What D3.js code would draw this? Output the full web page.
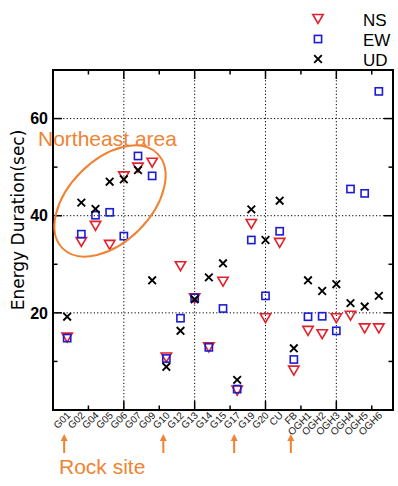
<!DOCTYPE html>
<html><head><meta charset="utf-8">
<script src="https://cdn.jsdelivr.net/npm/d3@7"></script>
<style>html,body{margin:0;padding:0;background:#fff;}svg{display:block;}</style>
</head><body>
<script>
const categories = ["G01","G02","G04","G05","G06","G07","G09","G10","G12","G13","G14","G15","G17","G19","G20","CU","FB","OGH1","OGH2","OGH3","OGH4","OGH5","OGH6"];
const nsValues = [14.9,34.6,37.9,34.0,48.1,49.9,50.9,10.8,29.6,23.0,12.9,26.4,4.0,38.3,18.9,34.4,8.1,16.3,15.6,18.9,19.4,16.8,16.8];
const ewValues = [14.8,36.2,40.1,40.7,35.8,52.3,48.2,10.6,18.9,23.1,12.9,20.9,4.3,35.0,23.5,36.8,10.4,19.2,19.3,16.3,45.5,44.6,65.6];
const udValues = [19.2,42.7,41.4,47.0,47.5,49.4,26.7,8.9,16.3,22.8,27.3,30.2,6.2,41.3,35.0,43.1,12.7,26.7,24.5,25.9,22.0,21.3,23.5];
const yMajorTicks = [20,40,60];
const yMinorTicks = [10,30,50];
const xMajorTicks = [5,10,15,20];
const xMinorTicks = [2.5,7.5,12.5,17.5,22.5];
const legendLabels = ["NS","EW","UD"];
const rockSites = ["G01","G10","G17","FB"];

const W=398,H=486;
const L=53,R=393,T=70,B=410;
const RED="#e3202b", BLUE="#1c1cd2", ORANGE="#ef8332";
const svg=d3.select("body").append("svg").attr("width",W).attr("height",H);
const x=d3.scaleLinear().domain([0,24]).range([L,R]);
const y=d3.scaleLinear().domain([0,70]).range([B,T]);
const xi=i=>x(i+1);

// grid
const grid=svg.append("g").attr("stroke","#000").attr("stroke-width",1).attr("stroke-dasharray","1.2,2.2");
yMajorTicks.forEach(v=>grid.append("line").attr("x1",L).attr("x2",R).attr("y1",y(v)).attr("y2",y(v)));
xMajorTicks.forEach(v=>grid.append("line").attr("y1",T).attr("y2",B).attr("x1",x(v)).attr("x2",x(v)));

// markers
function triPath(cx,cy){const w=5.2,h=9;return `M${cx-w},${cy-h/2}L${cx+w},${cy-h/2}L${cx},${cy+h/2}Z`;}
svg.append("g").selectAll("path").data(nsValues).join("path")
  .attr("d",(d,i)=>triPath(xi(i),y(d))).attr("fill","none").attr("stroke",RED).attr("stroke-width",1.6);
svg.append("g").selectAll("rect").data(ewValues).join("rect")
  .attr("x",(d,i)=>xi(i)-3.6).attr("y",d=>y(d)-3.6).attr("width",7.2).attr("height",7.2)
  .attr("fill","none").attr("stroke",BLUE).attr("stroke-width",1.6);
const xs=svg.append("g").attr("stroke","#000").attr("stroke-width",1.9);
udValues.forEach((d,i)=>{const cx=xi(i),cy=y(d),s=3.8;
  xs.append("path").attr("d",`M${cx-s},${cy-s}L${cx+s},${cy+s}M${cx-s},${cy+s}L${cx+s},${cy-s}`);});

// frame + ticks
const fr=svg.append("g").attr("stroke","#000");
fr.append("rect").attr("x",L).attr("y",T).attr("width",R-L).attr("height",B-T).attr("fill","none").attr("stroke-width",2);
const maj=9,mn=4.5;
yMajorTicks.forEach(v=>{fr.append("line").attr("x1",L).attr("x2",L+maj).attr("y1",y(v)).attr("y2",y(v)).attr("stroke-width",1.5);
  fr.append("line").attr("x1",R).attr("x2",R-maj).attr("y1",y(v)).attr("y2",y(v)).attr("stroke-width",1.5);});
yMinorTicks.forEach(v=>{fr.append("line").attr("x1",L).attr("x2",L+mn).attr("y1",y(v)).attr("y2",y(v)).attr("stroke-width",1.5);
  fr.append("line").attr("x1",R).attr("x2",R-mn).attr("y1",y(v)).attr("y2",y(v)).attr("stroke-width",1.5);});
xMajorTicks.forEach(v=>{fr.append("line").attr("y1",B).attr("y2",B-maj).attr("x1",x(v)).attr("x2",x(v)).attr("stroke-width",1.5);
  fr.append("line").attr("y1",T).attr("y2",T+maj).attr("x1",x(v)).attr("x2",x(v)).attr("stroke-width",1.5);});
xMinorTicks.forEach(v=>{fr.append("line").attr("y1",B).attr("y2",B-mn).attr("x1",x(v)).attr("x2",x(v)).attr("stroke-width",1.5);
  fr.append("line").attr("y1",T).attr("y2",T+mn).attr("x1",x(v)).attr("x2",x(v)).attr("stroke-width",1.5);});

// y tick labels
svg.append("g").selectAll("text").data(yMajorTicks).join("text")
  .attr("x",48).attr("y",d=>y(d)).attr("dy","0.36em").attr("text-anchor","end")
  .attr("font-family","Liberation Sans, Arial, sans-serif").attr("font-weight","bold").attr("font-size",16).text(d=>d);
// x tick labels
svg.append("g").selectAll("text").data(categories).join("text")
  .attr("transform",(d,i)=>`translate(${xi(i)+4},${B+6}) rotate(-45)`).attr("text-anchor","end")
  .attr("font-family","Liberation Sans, Arial, sans-serif").attr("font-size",10).attr("fill","#222").text(d=>d);
// y label
svg.append("text").attr("transform","translate(24,220) rotate(-90)").attr("text-anchor","middle")
  .attr("font-family","DejaVu Sans, sans-serif").attr("font-size",17).text("Energy Duration(sec)");

// legend
const lg=svg.append("g");
const ly=[19,39,59];
lg.append("path").attr("d",triPath(318,ly[0])).attr("fill","none").attr("stroke",RED).attr("stroke-width",1.6);
lg.append("rect").attr("x",318-3.6).attr("y",ly[1]-3.6).attr("width",7.2).attr("height",7.2).attr("fill","none").attr("stroke",BLUE).attr("stroke-width",1.6);
lg.append("path").attr("d",`M${318-3.8},${ly[2]-3.8}L${318+3.8},${ly[2]+3.8}M${318-3.8},${ly[2]+3.8}L${318+3.8},${ly[2]-3.8}`).attr("stroke","#000").attr("stroke-width",1.9);
legendLabels.forEach((t,i)=>{
  lg.append("text").attr("x",363).attr("y",ly[i]+6.5)
    .attr("font-family","Liberation Sans, Arial, sans-serif").attr("font-size",17).text(t);
});

// annotations
svg.append("ellipse").attr("transform","translate(110,201) rotate(-45)").attr("rx",67).attr("ry",41)
  .attr("fill","none").attr("stroke",ORANGE).attr("stroke-width",2);
svg.append("text").attr("x",38).attr("y",146).attr("fill",ORANGE)
  .attr("font-family","Liberation Sans, Arial, sans-serif").attr("font-size",21).text("Northeast area");
svg.append("text").attr("x",59).attr("y",474).attr("fill",ORANGE)
  .attr("font-family","Liberation Sans, Arial, sans-serif").attr("font-size",21).text("Rock site");
const ar=svg.append("g");
rockSites.forEach(c=>{const cx=xi(categories.indexOf(c))-3;
  ar.append("line").attr("x1",cx).attr("x2",cx).attr("y1",453).attr("y2",440).attr("stroke",ORANGE).attr("stroke-width",2);
  ar.append("path").attr("d",`M${cx-3.5},${441}L${cx+3.5},${441}L${cx},${434}Z`).attr("fill",ORANGE);
});
</script>
</body></html>
